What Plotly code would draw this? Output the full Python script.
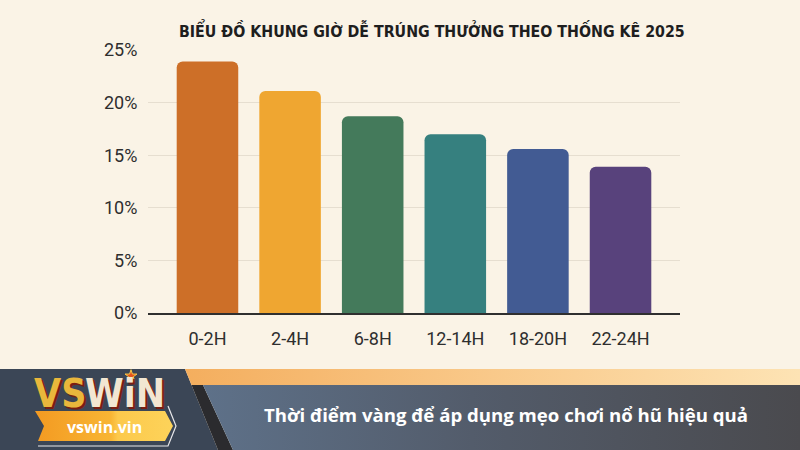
import plotly.graph_objects as go

# ---- data ----
categories = ["0-2H", "2-4H", "6-8H", "12-14H", "18-20H", "22-24H"]
values = [23.9, 21.1, 18.7, 17.0, 15.6, 13.9]
bar_colors = ["#CD6F28", "#EFA631", "#447A5B", "#36807F", "#425B93", "#58427C"]
y_ticks = [0, 5, 10, 15, 20, 25]
y_tick_labels = ["0%", "5%", "10%", "15%", "20%", "25%"]
title_text = "BIỂU ĐỒ KHUNG GIỜ DỄ TRÚNG THƯỞNG THEO THỐNG KÊ 2025"
caption_text = "Thời điểm vàng để áp dụng mẹo chơi nổ hũ hiệu quả"
brand_url = "vswin.vin"

W, H = 800, 450
BG = "#FAF3E6"

fig = go.Figure()

fig.add_trace(go.Bar(
    x=categories, y=values,
    marker=dict(color=bar_colors, line=dict(width=0), cornerradius=6),
    width=0.745, hoverinfo="skip", showlegend=False,
))

# ---- decoration layer (pixel coords on x2/y2) ----
def poly(xs, ys, color=None, grad=None, line=None):
    kw = dict(x=xs + [xs[0]], y=ys + [ys[0]], xaxis="x2", yaxis="y2",
              mode="lines", fill="toself", hoverinfo="skip", showlegend=False,
              line=line or dict(width=0))
    if grad:
        kw["fillgradient"] = dict(type="horizontal", colorscale=grad)
    else:
        kw["fillcolor"] = color
    fig.add_trace(go.Scatter(**kw))

# slate left block
poly([0, 185, 218, 0], [369, 369, 450, 450], color="#3B4656")
# orange strip
poly([185, 800, 800, 191.5], [369, 369, 385, 385],
     grad=[[0, "#F4AE5E"], [0.5, "#F9C98A"], [1, "#FDE3B4"]])
# dark diagonal stripe
poly([191.5, 203, 233, 218], [385, 385, 450, 450], color="#2B2B2E")
# main panel
poly([203, 800, 800, 233], [385, 385, 450, 450],
     grad=[[0, "#5E7189"], [0.45, "#535C6B"], [1, "#4A4A4E"]])
# ribbon
poly([35, 165, 173, 165, 38, 44], [411, 411, 426, 441, 441, 426],
     grad=[[0, "#F39A22"], [0.55, "#F8B534"], [0.6, "#FCC94C"], [1, "#FDD35A"]])
# ribbon outline
fig.add_trace(go.Scatter(x=[38, 168, 176, 168], y=[446, 446, 426, 406], xaxis="x2", yaxis="y2",
                         mode="lines", line=dict(color="#E8E8EA", width=1.2),
                         hoverinfo="skip", showlegend=False))
# star on logo
fig.add_trace(go.Scatter(x=[131], y=[376], xaxis="x2", yaxis="y2", mode="markers",
                         marker=dict(symbol="star", size=9, color="#E2531C",
                                     line=dict(color="#F7C948", width=1)),
                         hoverinfo="skip", showlegend=False))

logo_font = "DejaVu Sans Condensed, Liberation Sans Narrow, sans-serif"
annotations = [
    dict(text=title_text, x=432, y=30, xref="x2", yref="y2", showarrow=False,
         font=dict(family=logo_font, size=15.8, color="#1E1E1E", weight="bold"),
         xanchor="center", yanchor="middle"),
    dict(text=caption_text, x=262, y=414, xref="x2", yref="y2", showarrow=False,
         font=dict(family="Open Sans, Noto Sans, sans-serif", size=18.6, color="#FFFFFF",
                   weight="bold"),
         xanchor="left", yanchor="middle"),
    dict(text="VS", x=32, y=393, xref="x2", yref="y2", showarrow=False,
         font=dict(family=logo_font, size=39, color="#E9B73C", weight="bold",
                   shadow="2px 2px 0px #7A1E12"),
         xanchor="left", yanchor="middle"),
    dict(text="WiN", x=167, y=393, xref="x2", yref="y2", showarrow=False,
         font=dict(family=logo_font, size=39, color="#F2E6D2", weight="bold",
                   shadow="2px 2px 0px #7A1E12"),
         xanchor="right", yanchor="middle"),
    dict(text=brand_url, x=104, y=427, xref="x2", yref="y2", showarrow=False,
         font=dict(family="Open Sans, Noto Sans, sans-serif", size=16, color="#FFFFFF",
                   weight="bold"),
         xanchor="center", yanchor="middle"),
]

x0, x1 = 148, 680
ytop, ybot = 50, 313

fig.update_layout(
    width=W, height=H,
    margin=dict(l=0, r=0, t=0, b=0, pad=0, autoexpand=False),
    paper_bgcolor=BG, plot_bgcolor="rgba(0,0,0,0)",
    showlegend=False,
    annotations=annotations,
    xaxis=dict(domain=[x0 / W, x1 / W], range=[-0.72, 5.72], automargin=False,
               showgrid=False, zeroline=False,
               showline=True, linecolor="#2F2F2F", linewidth=1.5,
               ticks="outside", ticklen=9, tickcolor="rgba(0,0,0,0)",
               tickfont=dict(family="Roboto, sans-serif", size=18, color="#2E2E2E"),
               fixedrange=True),
    yaxis=dict(domain=[(H - ybot) / H, (H - ytop) / H], range=[0, 25], automargin=False,
               tickvals=y_ticks, ticktext=y_tick_labels,
               showgrid=True, gridcolor="#E6DED0", gridwidth=1,
               zeroline=False, showline=False,
               ticks="outside", ticklen=6, tickcolor="rgba(0,0,0,0)",
               tickfont=dict(family="Roboto, sans-serif", size=18, color="#2E2E2E"),
               fixedrange=True),
    xaxis2=dict(domain=[0, 1], range=[0, W], visible=False, anchor="y2",
                automargin=False, fixedrange=True),
    yaxis2=dict(domain=[0, 1], range=[H, 0], visible=False, anchor="x2",
                automargin=False, fixedrange=True),
)

fig.write_html("out.html", config={"displayModeBar": False},
               post_script="document.body.style.margin='0';document.body.style.padding='0';")
